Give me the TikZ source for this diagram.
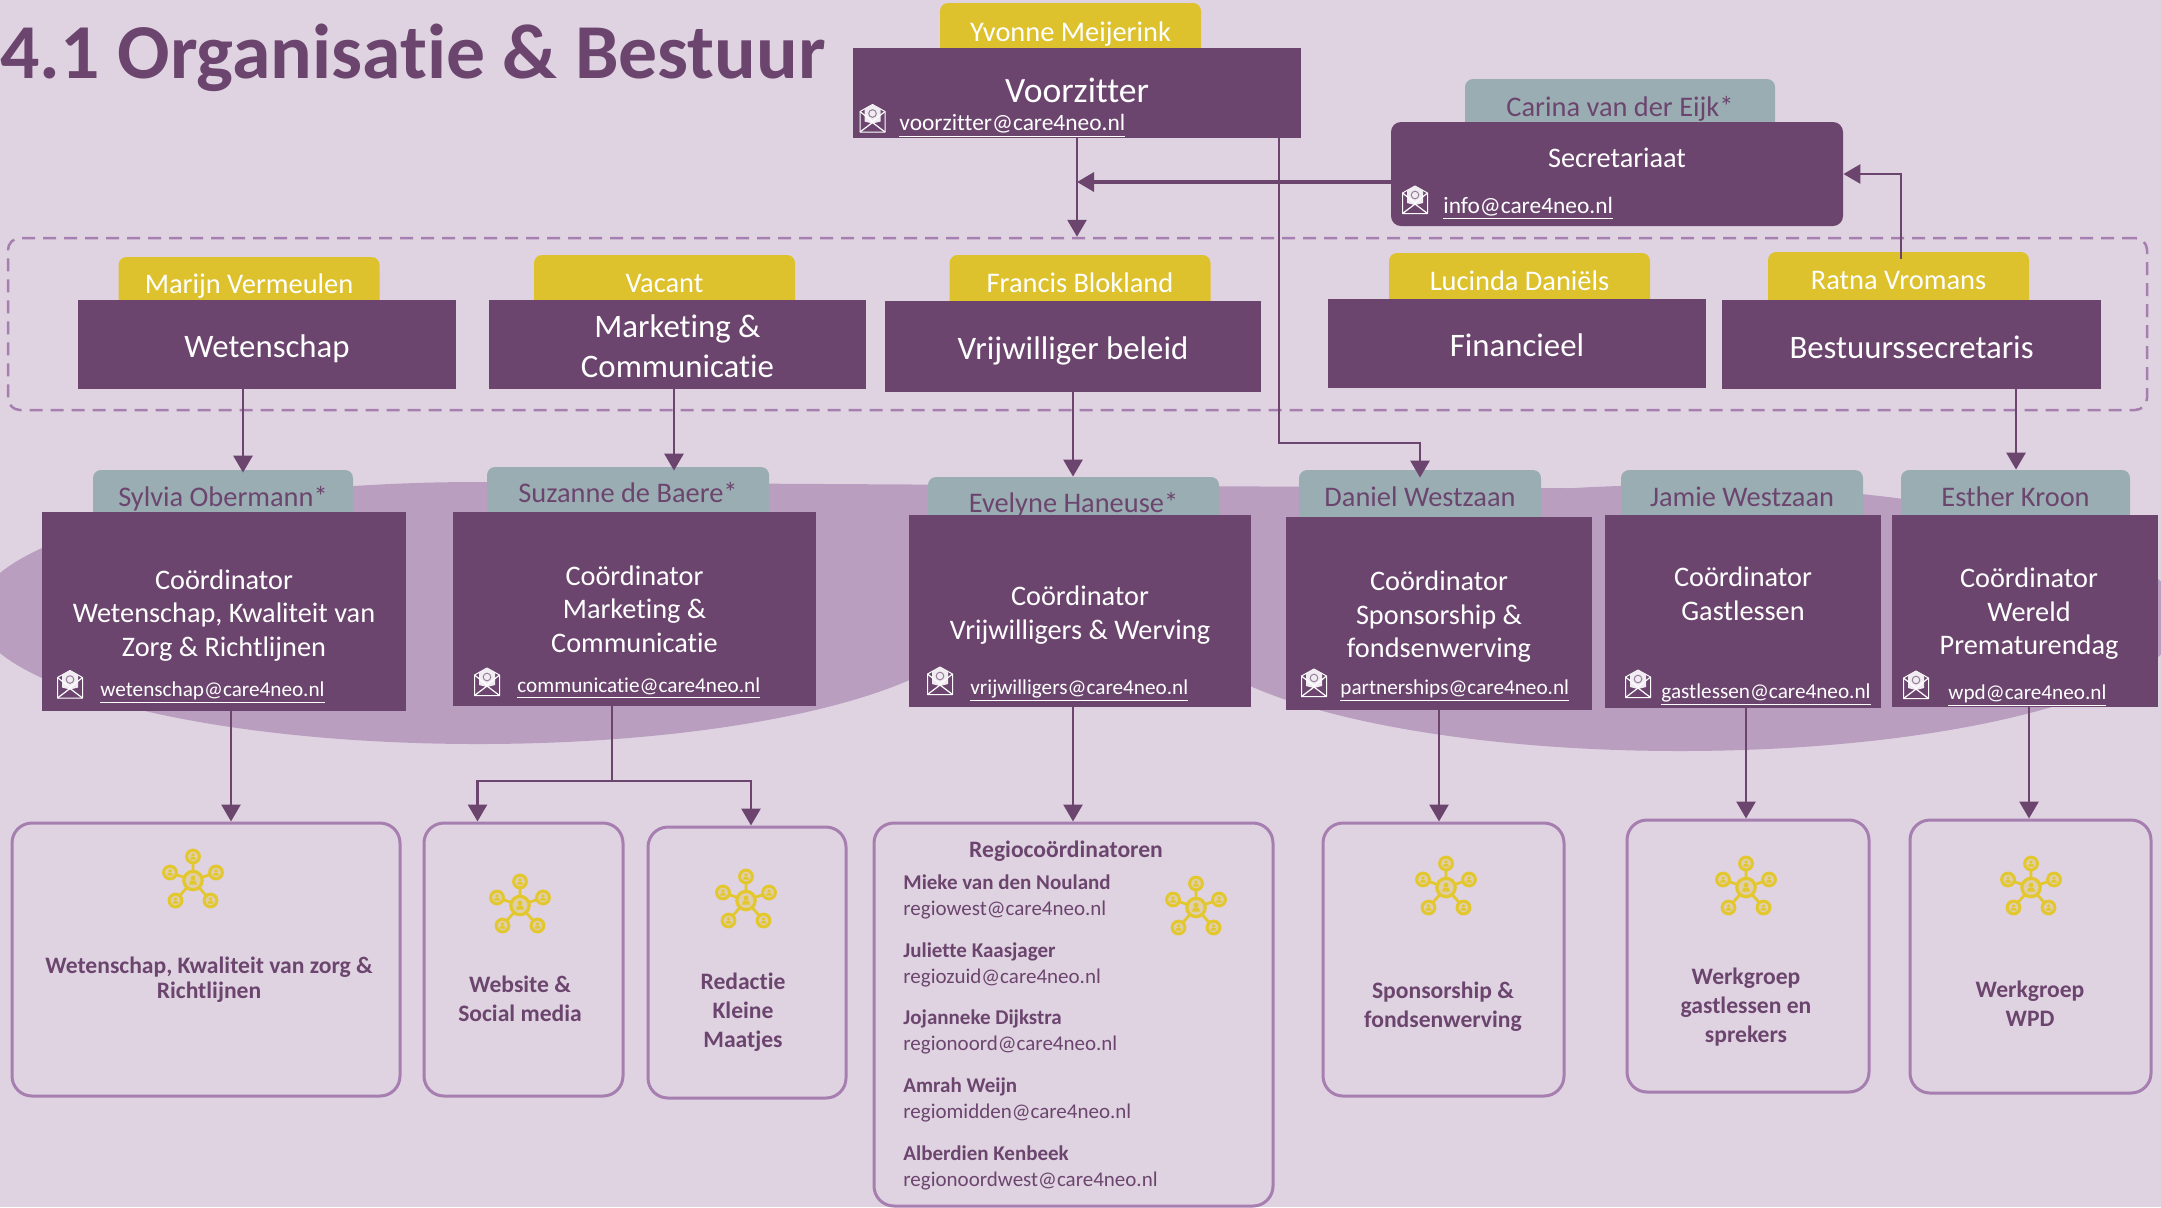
\documentclass[tikz,border=0pt]{standalone}
\usepackage{fontspec}
\setmainfont{Carlito}[Ligatures=NoCommon]
\usepackage{tikz}
\usetikzlibrary{arrows.meta}
\definecolor{pagebg}{HTML}{DFD3E1}
\definecolor{blob}{HTML}{B99EC0}
\definecolor{plum}{HTML}{6C456F}
\definecolor{gold}{HTML}{DEC22D}
\definecolor{slate}{HTML}{9AADB3}
\definecolor{lilac}{HTML}{A67FB0}
\definecolor{netgold}{HTML}{E3C72F}
\tikzset{
  goldtab/.style={fill=gold,text=white,rounded corners=4pt,minimum width=130.5pt,font=\fontsize{14.2}{16}\selectfont,text height=12pt,text depth=2.5pt},
  slatetab/.style={fill=slate,text=plum,rounded corners=4pt,font=\fontsize{14.2}{16}\selectfont,text height=12pt,text depth=2.5pt},
  plumbox/.style={fill=plum},
  maintext/.style={text=white,align=center,font=\fontsize{16.4}{20}\selectfont},
  bodytext/.style={text=white,align=center,font=\fontsize{14.15}{16.75}\selectfont},
  mailtext/.style={text=white,anchor=west,font=\fontsize{10.6}{14}\selectfont,text height=10.5pt,text depth=2.5pt},
  bigmail/.style={mailtext,font=\fontsize{11.7}{14}\selectfont},
  groupbox/.style={draw=lilac,line width=1.5pt,rounded corners=10pt},
  grouptext/.style={text=plum,align=center,font=\fontsize{11.8}{14.5}\bfseries\selectfont},
  link/.style={draw=plum,line width=1.4pt,-{Triangle[length=8.5pt,width=9.5pt]}},
  mailicon/.pic={
    \draw[white,line width=0.5pt,line join=round] (-12.5,13.5) -- (12.5,13.5) -- (12.5,-7) -- (0,-14) -- (-12.5,-7) -- cycle;
    \fill[white!90!plum] (-8,3) -- (-8,-10) -- (0,-14) -- (8,-10) -- (8,3) -- (0,5) -- cycle;
    \draw[plum!70!white,line width=0.5pt] (0,-5) circle (1.9pt);
    \draw[white,line width=0.6pt] (-12.5,-7) -- (0,3) -- (12.5,-7);
    \draw[white,line width=0.6pt] (-12.5,13.5) -- (0,4) -- (12.5,13.5);
  },
  member/.pic={
    \draw[netgold,line width=1.5pt,fill=pagebg!70!netgold] (0,0) circle (3.2pt);
    \fill[netgold] (0,-1.5) circle (0.9pt);
    \fill[netgold] (-3,3) -- (-2,0.5) -- (2,0.5) -- (3,3) -- cycle;
  },
  netw/.pic={
    \draw[netgold,line width=1.4pt] (0,-24) -- (0,0) -- (23,-8) (0,0) -- (17.5,20) (0,0) -- (-17.5,20) (0,0) -- (-23,-8);
    \pic at (0,-24) {member};
    \pic at (23,-8) {member};
    \pic at (-23,-8) {member};
    \pic at (17.5,20) {member};
    \pic at (-17.5,20) {member};
    \draw[netgold,line width=1.6pt,fill=pagebg!70!netgold] (0,0) circle (4.6pt);
    \fill[netgold] (0,-2.5) circle (1.2pt);
    \fill[netgold] (-4,4) -- (-2.5,0) -- (2.5,0) -- (4,4) -- cycle;
  }
}
\begin{document}
\begin{tikzpicture}[x=0.5pt,y=-0.5pt]
\tikzstyle{every node}+=[inner sep=0pt]
\clip[use as bounding box] (0,0) rectangle (2161,1207);
\fill[pagebg] (0,0) rectangle (2161,1207);
\fill[blob] (478,613) ellipse [x radius=251pt,y radius=65.5pt];
\fill[blob] (1680,618) ellipse [x radius=250pt,y radius=66.5pt];
\fill[blob] (478,482) -- (1700,489) -- (1700,620) -- (478,620) -- cycle;
\node[anchor=base west,text=plum,font=\fontsize{38.85}{44}\bfseries\selectfont] (title) at (0,78.5) {4.1 Organisatie \& Bestuur};
\node[draw=lilac,line width=1.25pt,dash pattern=on 6.5pt off 4pt,rounded corners=6pt,minimum width=1069.5pt,minimum height=86pt] (bestuur) at (1077.5,324) {};
\node[goldtab,minimum height=29pt] (yvonne) at (1070.5,32) {Yvonne Meijerink};
\node[slatetab,minimum width=155pt,minimum height=28pt] (carina) at (1620,107) {Carina van der Eijk*};
\node[goldtab,minimum height=27pt] (marijn) at (249,284) {Marijn Vermeulen};
\node[goldtab,minimum height=28pt] (vacant) at (664.5,283) {Vacant};
\node[goldtab,minimum height=28pt] (francis) at (1080,283) {Francis Blokland};
\node[goldtab,minimum height=28pt] (lucinda) at (1519.5,281) {Lucinda Daniëls};
\node[goldtab,minimum height=28pt] (ratna) at (1898.5,280) {Ratna Vromans};
\node[slatetab,minimum width=130pt,minimum height=27pt] (sylvia) at (223,497) {Sylvia Obermann*};
\node[slatetab,minimum width=141pt,minimum height=26pt] (suzanne) at (628,493) {Suzanne de Baere*};
\node[slatetab,minimum width=145.5pt,minimum height=26pt] (evelyne) at (1073.5,503) {Evelyne Haneuse*};
\node[slatetab,minimum width=121pt,minimum height=27pt] (daniel) at (1420,497) {Daniel Westzaan};
\node[slatetab,minimum width=121pt,minimum height=27pt] (jamie) at (1742,497) {Jamie Westzaan};
\node[slatetab,minimum width=114.5pt,minimum height=27pt] (esther) at (2015.5,497) {Esther Kroon};
\node[plumbox,minimum width=224pt,minimum height=45pt] (voorzitter) at (1077,93) {};
\node[plumbox,rounded corners=5pt,minimum width=226pt,minimum height=52pt] (secretariaat) at (1617,174) {};
\node[plumbox,minimum width=189pt,minimum height=44.5pt] (wetenschap) at (267,344.5) {};
\node[plumbox,minimum width=188.5pt,minimum height=44.5pt] (marketing) at (677.5,344.5) {};
\node[plumbox,minimum width=188pt,minimum height=45.5pt] (vrijwilliger) at (1073,346.5) {};
\node[plumbox,minimum width=189pt,minimum height=44.5pt] (financieel) at (1517,343.5) {};
\node[plumbox,minimum width=189.5pt,minimum height=44.5pt] (secretaris) at (1911.5,344.5) {};
\node[plumbox,minimum width=182pt,minimum height=99.5pt] (cowet) at (224,611.5) {};
\node[plumbox,minimum width=181.5pt,minimum height=97pt] (comar) at (634.5,609) {};
\node[plumbox,minimum width=171pt,minimum height=96pt] (covrij) at (1080,611) {};
\node[plumbox,minimum width=153pt,minimum height=96.5pt] (cospons) at (1439,613.5) {};
\node[plumbox,minimum width=138pt,minimum height=96.5pt] (cogast) at (1743,611.5) {};
\node[plumbox,minimum width=133pt,minimum height=96pt] (cowpd) at (2025,611) {};
\node[maintext,font=\fontsize{17.8}{20}\selectfont] (voorztext) at (1077,90) {Voorzitter};
\node[bodytext] (secrtext) at (1617,158) {Secretariaat};
\node[maintext] (wettext) at (267,348.5) {Wetenschap};
\node[maintext] (martext) at (677.5,346) {Marketing \&\\Communicatie};
\node[maintext] (vrijtext) at (1073,350.5) {Vrijwilliger beleid};
\node[maintext] (fintext) at (1517,345) {Financieel};
\node[maintext] (bestext) at (1911.5,347) {Bestuurssecretaris};
\node[bodytext] (cowettext) at (224,615.5) {Coördinator\\Wetenschap, Kwaliteit van\\Zorg \& Richtlijnen};
\node[bodytext] (comartext) at (634.5,609) {Coördinator\\Marketing \&\\Communicatie};
\node[bodytext] (covrijtext) at (1080,615) {Coördinator\\Vrijwilligers \& Werving};
\node[bodytext] (cosponstext) at (1439,617) {Coördinator\\Sponsorship \&\\fondsenwerving};
\node[bodytext] (cogasttext) at (1743,594) {Coördinator\\Gastlessen};
\node[bodytext] (cowpdtext) at (2029,614) {Coördinator\\Wereld\\Prematurendag};
\node[bigmail] (mailvoorz) at (899,122.5) {\underline{voorzitter@care4neo.nl}};
\node[bigmail] (mailinfo) at (1443,205) {\underline{info@care4neo.nl}};
\node[mailtext] (mailwet) at (100,688) {\underline{wetenschap@care4neo.nl}};
\node[mailtext] (mailcom) at (517,684) {\underline{communicatie@care4neo.nl}};
\node[mailtext] (mailvrij) at (970,686) {\underline{vrijwilligers@care4neo.nl}};
\node[mailtext] (mailpart) at (1340,686) {\underline{partnerships@care4neo.nl}};
\node[mailtext] (mailgast) at (1661,690) {\underline{gastlessen@care4neo.nl}};
\node[mailtext] (mailwpd) at (1948,691) {\underline{wpd@care4neo.nl}};
\pic at (872.5,118.5) {mailicon};
\pic at (1415,200) {mailicon};
\pic at (70,684.5) {mailicon};
\pic at (487,682) {mailicon};
\pic at (940,681) {mailicon};
\pic at (1314,683) {mailicon};
\pic at (1638,684) {mailicon};
\pic at (1916,685) {mailicon};
\node[groupbox,minimum width=194pt,minimum height=136.5pt] (wgwet) at (206,959.5) {};
\node[groupbox,minimum width=99.5pt,minimum height=136.5pt] (wgweb) at (523.5,959.5) {};
\node[groupbox,minimum width=99pt,minimum height=135.5pt] (wgred) at (747,962.5) {};
\node[groupbox,minimum width=199.5pt,minimum height=191.5pt] (wgregio) at (1073.5,1014.5) {};
\node[groupbox,minimum width=120.5pt,minimum height=136.5pt] (wgspons) at (1443.5,959.5) {};
\node[groupbox,minimum width=121pt,minimum height=136pt] (wggast) at (1748,956) {};
\node[groupbox,minimum width=120.5pt,minimum height=136.5pt] (wgwpd) at (2030.5,956.5) {};
\node[grouptext] (wgwettext) at (209,979.5) {Wetenschap, Kwaliteit van zorg \&\\[-2pt]Richtlijnen};
\node[grouptext] (wgwebtext) at (520,999) {Website \&\\Social media};
\node[grouptext] (wgredtext) at (743,1012) {Redactie\\Kleine\\Maatjes};
\node[grouptext] (wgsponstext) at (1443,1007) {Sponsorship \&\\fondsenwerving};
\node[grouptext] (wggasttext) at (1746,1007) {Werkgroep\\gastlessen en\\sprekers};
\node[grouptext] (wgwpdtext) at (2030,1004) {Werkgroep\\WPD};
\node[grouptext] (regiotitle) at (1066,851) {Regiocoördinatoren};
\node[anchor=north west,text=plum,align=left,font=\fontsize{10.5}{13}\selectfont] (regiolist) at (903,874.5) {\textbf{Mieke van den Nouland}\\regiowest@care4neo.nl\\[7.8pt]\textbf{Juliette Kaasjager}\\regiozuid@care4neo.nl\\[7.8pt]\textbf{Jojanneke Dijkstra}\\regionoord@care4neo.nl\\[7.8pt]\textbf{Amrah Weijn}\\regiomidden@care4neo.nl\\[7.8pt]\textbf{Alberdien Kenbeek}\\regionoordwest@care4neo.nl};
\pic at (193,880.5) {netw};
\pic at (520,905.5) {netw};
\pic at (746,900.5) {netw};
\pic at (1196,907.5) {netw};
\pic at (1446,887.5) {netw};
\pic at (1746,887.5) {netw};
\pic at (2031,887.5) {netw};
\coordinate (kink) at (1420,443);
\coordinate (split) at (612,781);
\draw[link] (voorzitter.south) -- (voorzitter.south |- bestuur.north);
\draw[link] ([xshift=101pt]voorzitter.south) |- (kink) -- ([yshift=-4pt]daniel.north);
\draw[link,line width=1.6pt] ([yshift=-4pt]secretariaat.west) -- ([yshift=-4pt]secretariaat.west -| voorzitter.south);
\draw[link] ([xshift=1.25pt,yshift=-3.5pt]ratna.north) |- (secretariaat.east);
\draw[link,shorten >=-1.5pt] ([xshift=-12pt]wetenschap.south) -- ([xshift=-12pt]wetenschap.south |- sylvia.north);
\draw[link,shorten >=-2pt] ([xshift=-1.75pt]marketing.south) -- ([xshift=-1.75pt]marketing.south |- suzanne.north);
\draw[link] (vrijwilliger.south) -- (vrijwilliger.south |- evelyne.north);
\draw[link] ([xshift=52.25pt]secretaris.south) -- ([xshift=52.25pt]secretaris.south |- esther.north);
\draw[link] ([xshift=3.5pt]cowet.south) -- ([xshift=3.5pt]cowet.south |- wgwet.north);
\draw[draw=plum,line width=1.4pt] ([xshift=-11.25pt]comar.south) -- (split);
\draw[link] (split) -| ([xshift=-23pt]wgweb.north);
\draw[link] (split) -| ([xshift=2pt]wgred.north);
\draw[link] ([xshift=-3.5pt]covrij.south) -- ([xshift=-3.5pt]covrij.south |- wgregio.north);
\draw[link] (cospons.south) -- (cospons.south |- wgspons.north);
\draw[link] ([xshift=1.5pt]cogast.south) -- ([xshift=1.5pt]cogast.south |- wggast.north);
\draw[link] ([xshift=2pt]cowpd.south) -- ([xshift=2pt]cowpd.south |- wgwpd.north);
\end{tikzpicture}
\end{document}
